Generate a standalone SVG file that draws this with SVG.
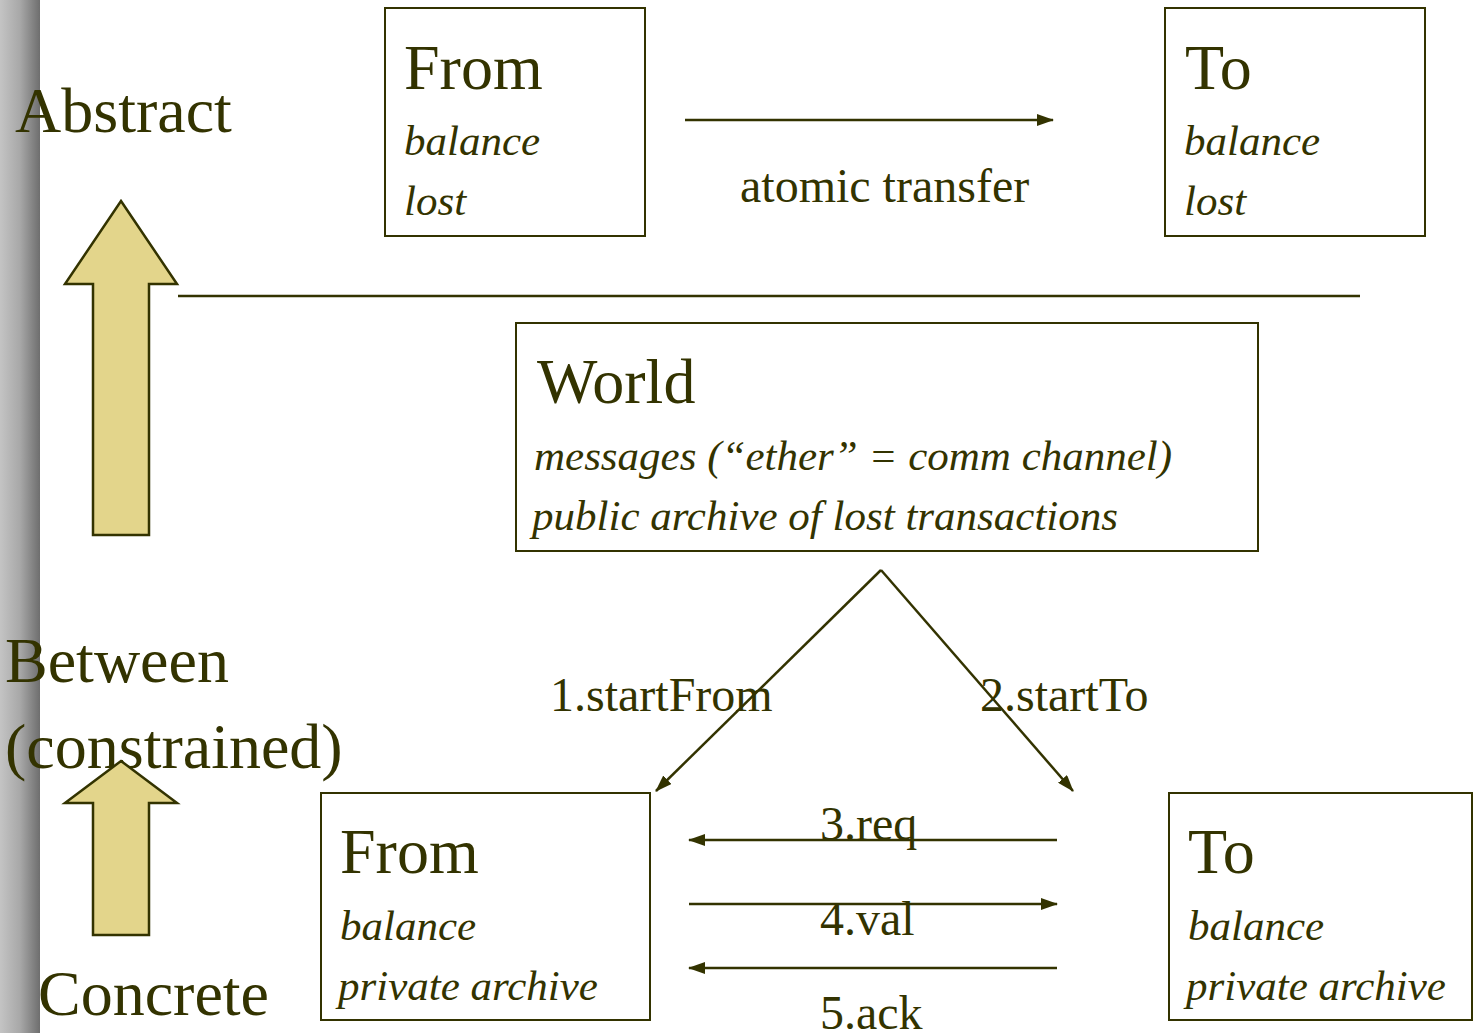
<svg xmlns="http://www.w3.org/2000/svg" width="1473" height="1033" viewBox="0 0 1473 1033">
<defs>
<linearGradient id="bar" x1="0" y1="0" x2="1" y2="0">
<stop offset="0" stop-color="#c4c4c4"/>
<stop offset="0.5" stop-color="#a8a8a8"/>
<stop offset="1" stop-color="#6e6e6e"/>
</linearGradient>
<marker id="ah" markerWidth="17" markerHeight="12" refX="16" refY="6" orient="auto" markerUnits="userSpaceOnUse">
<path d="M0,0 L17,6 L0,12 Z" fill="#333300"/>
</marker>
</defs>
<style>
text{font-family:"Liberation Serif","Times New Roman",serif;fill:#333300}
.big{font-size:64px}
.it{font-size:43px;font-style:italic}
.lbl{font-size:48px}
.box{fill:#fff;stroke:#333300;stroke-width:2}
.ln{stroke:#333300;stroke-width:2.5;fill:none}
.up{fill:#e3d58b;stroke:#333300;stroke-width:2.5}
</style>
<rect x="0" y="0" width="1473" height="1033" fill="#fff"/>
<rect x="0" y="0" width="40" height="1033" fill="url(#bar)"/>
<g id="side-labels">
<text class="big" x="15" y="132">Abstract</text>
<text class="big" x="5" y="682">Between</text>
<text class="big" x="5" y="768">(constrained)</text>
<text class="big" x="38" y="1015">Concrete</text>
</g>
<g id="level-arrows">
<path class="up" d="M121,201 L177,284 L149,284 L149,535 L93,535 L93,284 L65,284 Z"/>
<path class="up" d="M121,761 L177,803 L149,803 L149,935 L93,935 L93,803 L65,803 Z"/>
</g>
<g id="from-abstract">
<rect class="box" x="385" y="8" width="260" height="228"/>
<text class="big" x="404" y="89">From</text>
<text class="it" x="404" y="155">balance</text>
<text class="it" x="404" y="215">lost</text>
</g>
<g id="to-abstract">
<rect class="box" x="1165" y="8" width="260" height="228"/>
<text class="big" x="1185" y="89">To</text>
<text class="it" x="1184" y="155">balance</text>
<text class="it" x="1184" y="215">lost</text>
</g>
<g id="world">
<rect class="box" x="516" y="323" width="742" height="228"/>
<text class="big" x="537" y="403">World</text>
<text class="it" x="534" y="470">messages (“ether” = comm channel)</text>
<text class="it" x="532" y="530">public archive of lost transactions</text>
</g>
<g id="from-concrete">
<rect class="box" x="321" y="793" width="329" height="227"/>
<text class="big" x="340" y="873">From</text>
<text class="it" x="340" y="940">balance</text>
<text class="it" x="338" y="1000">private archive</text>
</g>
<g id="to-concrete">
<rect class="box" x="1169" y="793" width="303" height="227"/>
<text class="big" x="1188" y="873">To</text>
<text class="it" x="1188" y="940">balance</text>
<text class="it" x="1186" y="1000">private archive</text>
</g>
<g id="connectors">
<line class="ln" x1="178" y1="296" x2="1360" y2="296"/>
<line class="ln" x1="685" y1="120" x2="1053" y2="120" marker-end="url(#ah)"/>
<line class="ln" x1="881" y1="570" x2="656" y2="791" marker-end="url(#ah)"/>
<line class="ln" x1="881" y1="570" x2="1073" y2="791" marker-end="url(#ah)"/>
<line class="ln" x1="1057" y1="840" x2="689" y2="840" marker-end="url(#ah)"/>
<line class="ln" x1="689" y1="904" x2="1057" y2="904" marker-end="url(#ah)"/>
<line class="ln" x1="1057" y1="968" x2="689" y2="968" marker-end="url(#ah)"/>
</g>
<g id="connector-labels">
<text class="lbl" x="740" y="202">atomic transfer</text>
<text class="lbl" x="550" y="711">1.startFrom</text>
<text class="lbl" x="980" y="711">2.startTo</text>
<text class="lbl" x="820" y="840">3.req</text>
<text class="lbl" x="820" y="935">4.val</text>
<text class="lbl" x="820" y="1029">5.ack</text>
</g>
</svg>
